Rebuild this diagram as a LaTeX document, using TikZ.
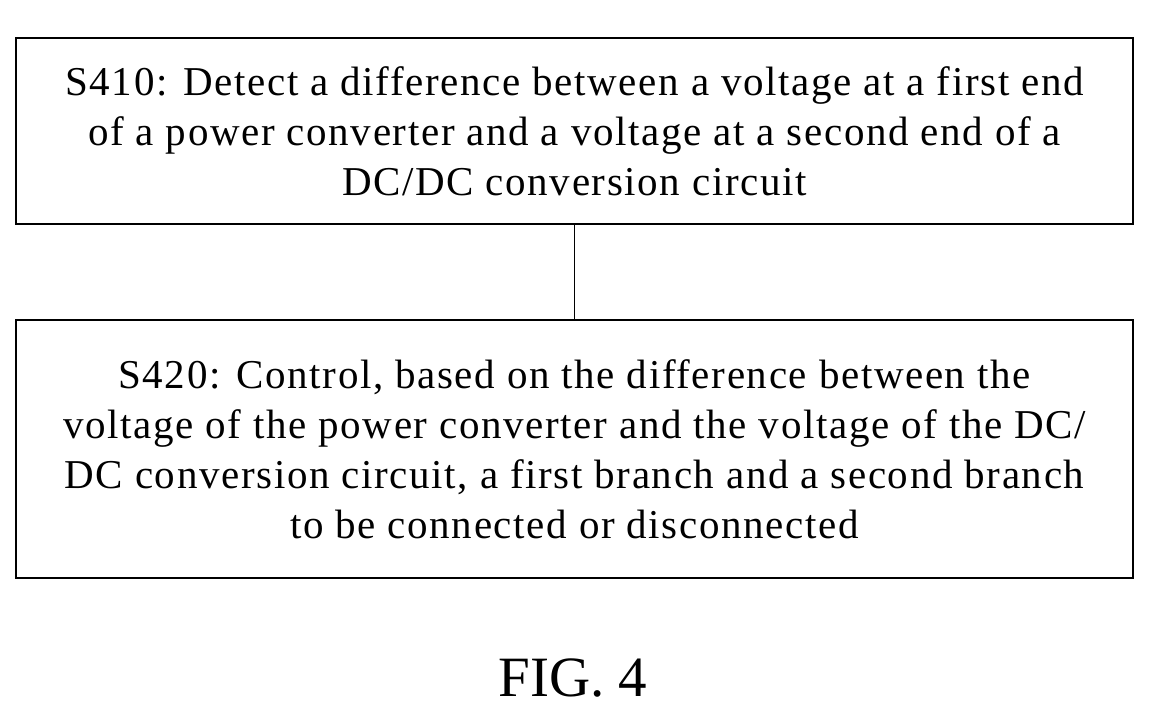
\documentclass[tikz,border=0pt]{standalone}
\usepackage{fontspec}
\setmainfont{Liberation Serif}
\newfontfamily\boxfont[LetterSpace=4]{Liberation Serif}
\begin{document}
\begin{tikzpicture}[x=1pt,y=-1pt,
  stepbox/.style={draw,line width=1.5pt,minimum width=1117pt,align=center,inner sep=0pt,
    font=\boxfont\fontsize{41}{50}\selectfont}]
\useasboundingbox (0,0) rectangle (1153,705);
\node[stepbox,minimum height=186pt] (a) at (574.5,131) {S410: Detect a difference between a voltage at a first end\\of a power converter and a voltage at a second end of a\\DC/DC conversion circuit};
\node[stepbox,minimum height=258pt] (b) at (574.5,449) {S420: Control, based on the difference between the\\voltage of the power converter and the voltage of the DC/\\DC conversion circuit, a first branch and a second branch\\to be connected or disconnected};
\draw[line width=1.5pt] (a.south) -- (b.north);
\node[font=\fontsize{57}{62}\selectfont,anchor=base,inner sep=0pt] (f) at (573,696) {FIG. 4};
\end{tikzpicture}
\end{document}
